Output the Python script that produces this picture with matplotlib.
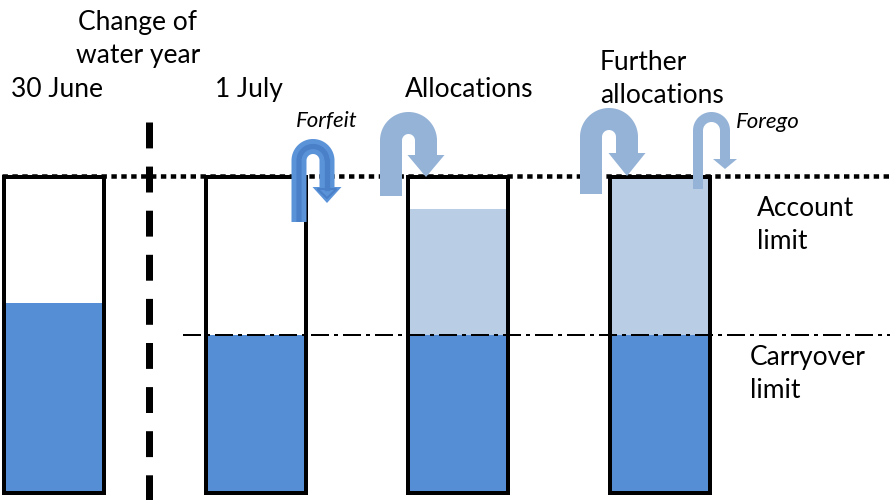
import numpy as np
import matplotlib.pyplot as plt
from matplotlib.patches import Rectangle, Polygon

plt.rcParams['font.family'] = ['Lato', 'DejaVu Sans']

# water held in each account, as % of the account limit
stages = ['30 June', '1 July', 'Allocations', 'Further\nallocations']
carryover = [60, 50, 50, 50]
allocation = [0, 0, 40, 50]
carryover_limit = 50
account_limit = 100

dark = '#558ed5'
light = '#b9cde5'
arrow_c = '#95b3d7'

W, H = 890, 500
fig = plt.figure(figsize=(W / 100, H / 100), dpi=100)
ax = fig.add_axes([0, 0, 1, 1])
ax.set_xlim(0, W)
ax.set_ylim(H, 0)
ax.axis('off')

px = 0.72  # points per pixel
bottom, top = 493, 177


def level(v):
    return bottom - v / account_limit * (bottom - top)


x0, step, width = 4, 202, 100
for i in range(len(stages)):
    x = x0 + i * step
    c_top = level(carryover[i])
    a_top = level(carryover[i] + allocation[i])
    ax.add_patch(Rectangle((x, c_top), width, bottom - c_top, color=dark, lw=0, zorder=1))
    if allocation[i]:
        ax.add_patch(Rectangle((x, a_top), width, c_top - a_top, color=light, lw=0, zorder=1))
    ax.add_patch(Rectangle((x, top), width, bottom - top, fill=False, ec='black',
                           lw=4 * px, zorder=2, joinstyle='miter'))

# account limit (dotted) and carryover limit (dash-dot)
ax.plot([2, W], [level(account_limit) - 1] * 2, color='black', lw=4.5 * px,
        dashes=(1.2, 1.0), zorder=3)
ax.plot([183, W], [level(carryover_limit)] * 2, color='black', lw=2 * px,
        dashes=(9, 2.5, 2, 2.5), zorder=3)

# change of water year
ax.plot([149, 149], [122, H], color='black', lw=7 * px, dashes=(3.7, 2.6), zorder=3)


def u_arrow(xl, xr, y_start, y_top, y_tip, lw, head_w, head_len, color, inner=None):
    r = (xr - xl) / 2
    cy = y_top + lw / 2 + r
    t = np.linspace(np.pi, 0, 60)
    xs = np.r_[xl, xl + r + r * np.cos(t), xr]
    ys = np.r_[y_start, cy - r * np.sin(t), y_tip - head_len]
    ax.plot(xs, ys, color=color, lw=lw * px, solid_capstyle='butt', zorder=5)
    head = [[xr - head_w / 2, y_tip - head_len], [xr + head_w / 2, y_tip - head_len], [xr, y_tip]]
    ax.add_patch(Polygon(head, color=color, lw=0, zorder=5))
    if inner:
        ax.plot(xs[:-1], ys[:-1], color=inner, lw=lw * 0.35 * px, solid_capstyle='butt', zorder=6)
        ax.plot([xr, xr], [cy, y_tip - head_len + 1], color=inner, lw=lw * 0.35 * px, zorder=6)
        h2 = [[xr - head_w / 2 + 5, y_tip - head_len + 2], [xr + head_w / 2 - 5, y_tip - head_len + 2],
              [xr, y_tip - 5]]
        ax.add_patch(Polygon(h2, fill=False, ec=inner, lw=1.5, zorder=6))


u_arrow(299, 327, 222, 139, 203, 15, 29, 16, '#5b93d9', inner='#4a80c8')   # forfeit
u_arrow(391, 426, 196, 112, 177, 22, 37, 22, arrow_c)                      # allocations
u_arrow(591, 627, 194, 108, 176, 22, 37, 23, arrow_c)                      # further allocations
u_arrow(698, 725, 189, 112, 169, 10, 24, 10, arrow_c)                      # forego

fs = 19
ls = 1.42
ax.text(138, 63, 'Change of\nwater year', ha='center', va='baseline', fontsize=fs,
        linespacing=ls)
ax.text(11, 97, stages[0], ha='left', va='baseline', fontsize=fs)
ax.text(215, 97, stages[1], ha='left', va='baseline', fontsize=fs)
ax.text(405, 97, stages[2], ha='left', va='baseline', fontsize=fs)
ax.text(600, 103, stages[3], ha='left', va='baseline', fontsize=fs, linespacing=ls)
ax.text(296, 127, 'Forfeit', ha='left', va='baseline', fontsize=16, style='italic')
ax.text(736, 128, 'Forego', ha='left', va='baseline', fontsize=16, style='italic')
ax.text(757, 249, 'Account\nlimit', ha='left', va='baseline', fontsize=fs, linespacing=ls)
ax.text(750, 398, 'Carryover\nlimit', ha='left', va='baseline', fontsize=fs, linespacing=ls)

fig.savefig('out.png', dpi=100)
